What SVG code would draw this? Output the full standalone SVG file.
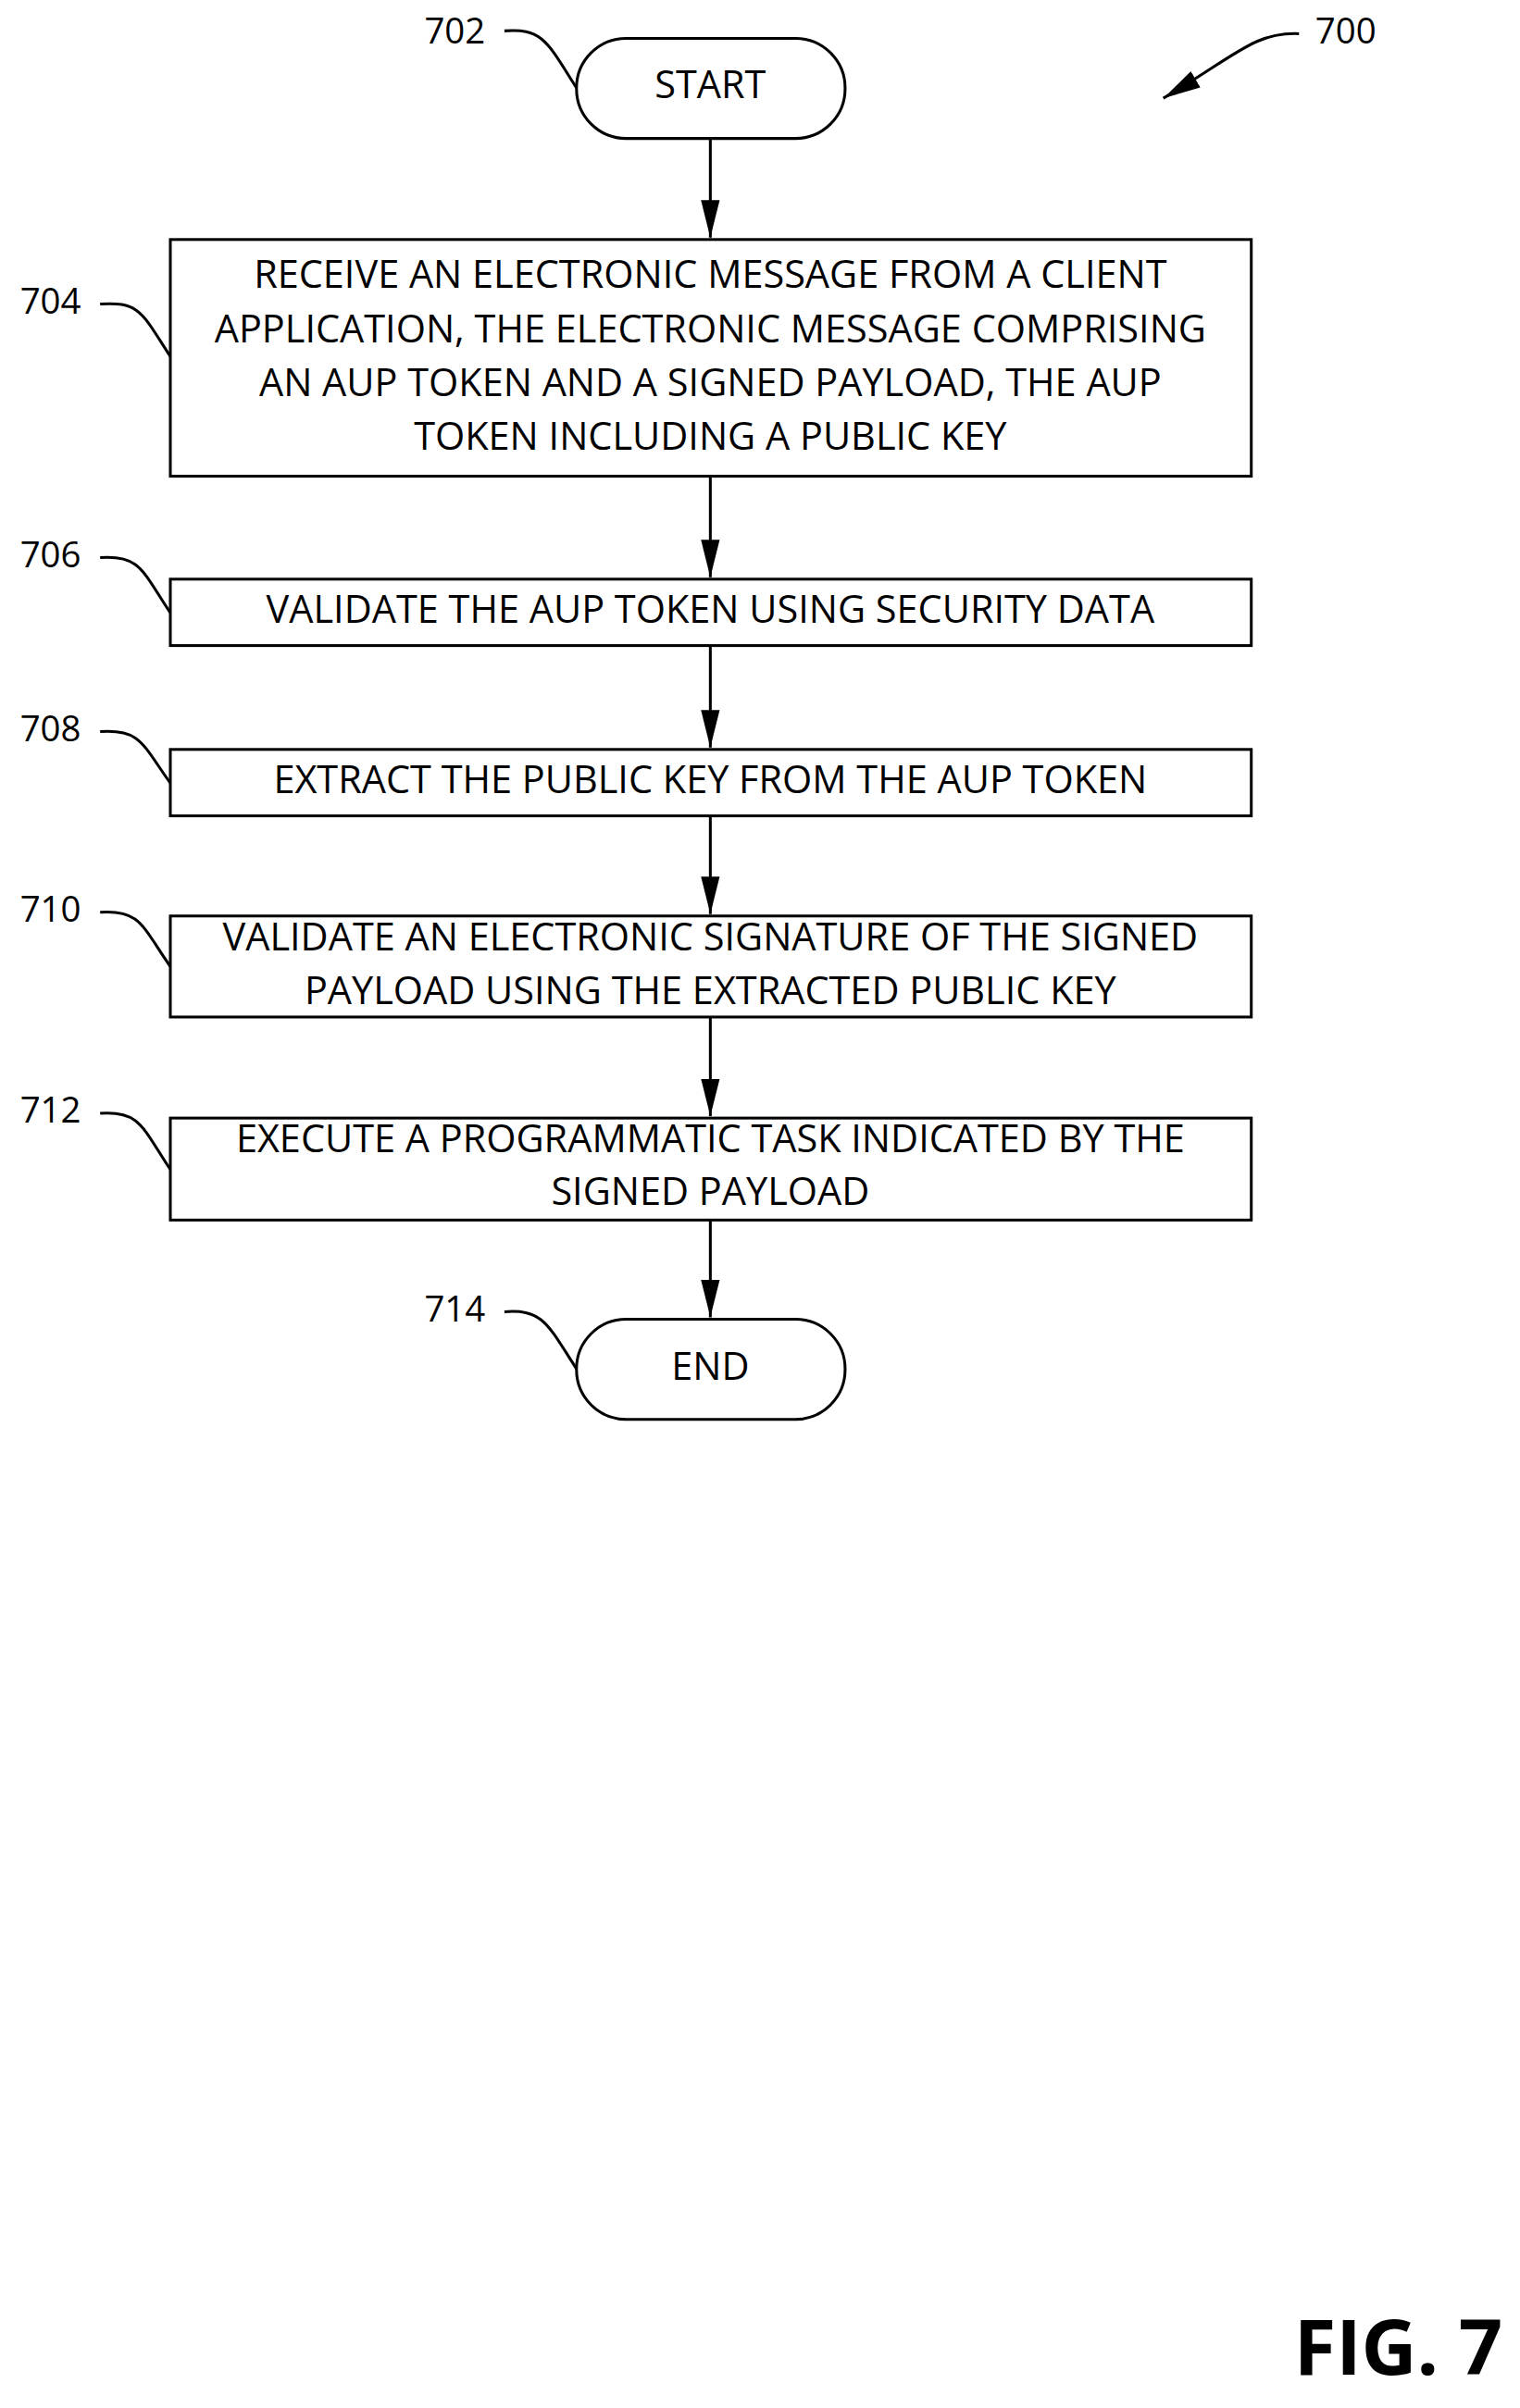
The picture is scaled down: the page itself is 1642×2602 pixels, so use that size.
<svg xmlns="http://www.w3.org/2000/svg" width="1642" height="2602" viewBox="0 0 1642 2602">
<style>
.b{fill:#fff;stroke:#000;stroke-width:3}
.t{font-family:"Open Sans","Liberation Sans",sans-serif;font-size:41px;text-anchor:middle;dominant-baseline:middle}
.l{font-family:"Open Sans","Liberation Sans",sans-serif;font-size:38px;text-anchor:middle;dominant-baseline:middle}
.c{fill:none;stroke:#000;stroke-width:3}
</style>
<defs>
<marker id="h" viewBox="0 0 10 10" refX="10" refY="5" markerWidth="14" markerHeight="14" markerUnits="userSpaceOnUse" orient="auto"><path d="M0,1.5L10,5L0,8.5z"/></marker>
<marker id="h2" viewBox="0 0 10 10" refX="10" refY="5" markerWidth="40" markerHeight="40" markerUnits="userSpaceOnUse" orient="auto"><path d="M0,2.5L10,5L0,7.5z"/></marker>
</defs>
<g transform="scale(1.011)">
<g id="connectors">
<line class="c" x1="759" y1="148" x2="759" y2="254" marker-end="url(#h2)"/>
<line class="c" x1="759" y1="509" x2="759" y2="617" marker-end="url(#h2)"/>
<line class="c" x1="759" y1="690" x2="759" y2="799" marker-end="url(#h2)"/>
<line class="c" x1="759" y1="872" x2="759" y2="977" marker-end="url(#h2)"/>
<line class="c" x1="759" y1="1087" x2="759" y2="1193" marker-end="url(#h2)"/>
<line class="c" x1="759" y1="1304" x2="759" y2="1408" marker-end="url(#h2)"/>
</g>
<g id="leaders">
<path class="c" d="M539,33 C580,30 585,45 616,94"/>
<path class="c" d="M107,325 C150,322 152,335 182,381"/>
<path class="c" d="M107,596 C150,593 152,610 182,655"/>
<path class="c" d="M107,782 C150,779 152,795 182,837"/>
<path class="c" d="M107,975 C150,972 152,990 182,1033"/>
<path class="c" d="M107,1190 C150,1187 152,1205 182,1250"/>
<path class="c" d="M539,1402 C580,1399 585,1415 616,1463"/>
<path class="c" d="M1388,36 C1340,34 1320,60 1243,105" marker-end="url(#h2)"/>
<text class="l" x="486" y="36">702</text>
<text class="l" x="54" y="325">704</text>
<text class="l" x="54" y="596">706</text>
<text class="l" x="54" y="782">708</text>
<text class="l" x="54" y="975">710</text>
<text class="l" x="54" y="1190">712</text>
<text class="l" x="486" y="1402">714</text>
<text class="l" x="1438" y="36">700</text>
</g>
<g id="n702"><rect class="b" x="616" y="41" width="287" height="107" rx="53"/><text class="t" x="759" y="94">START</text></g>
<g id="n704"><rect class="b" x="182" y="256" width="1155" height="253"/>
<text class="t" x="759" y="297">RECEIVE AN ELECTRONIC MESSAGE FROM A CLIENT</text>
<text class="t" x="759" y="355">APPLICATION, THE ELECTRONIC MESSAGE COMPRISING</text>
<text class="t" x="759" y="412">AN AUP TOKEN AND A SIGNED PAYLOAD, THE AUP</text>
<text class="t" x="759" y="470">TOKEN INCLUDING A PUBLIC KEY</text></g>
<g id="n706"><rect class="b" x="182" y="619" width="1155" height="71"/><text class="t" x="759" y="655">VALIDATE THE AUP TOKEN USING SECURITY DATA</text></g>
<g id="n708"><rect class="b" x="182" y="801" width="1155" height="71"/><text class="t" x="759" y="837">EXTRACT THE PUBLIC KEY FROM THE AUP TOKEN</text></g>
<g id="n710"><rect class="b" x="182" y="979" width="1155" height="108"/>
<text class="t" x="759" y="1005">VALIDATE AN ELECTRONIC SIGNATURE OF THE SIGNED</text>
<text class="t" x="759" y="1062">PAYLOAD USING THE EXTRACTED PUBLIC KEY</text></g>
<g id="n712"><rect class="b" x="182" y="1195" width="1155" height="109"/>
<text class="t" x="759" y="1220">EXECUTE A PROGRAMMATIC TASK INDICATED BY THE</text>
<text class="t" x="759" y="1277">SIGNED PAYLOAD</text></g>
<g id="n714"><rect class="b" x="616" y="1410" width="287" height="107" rx="53"/><text class="t" x="759" y="1464">END</text></g>
<text x="1494" y="2516" style="font-family:'Open Sans','Liberation Sans',sans-serif;font-size:82px;font-weight:bold;text-anchor:middle;dominant-baseline:middle">FIG. 7</text>
</g>
</svg>
